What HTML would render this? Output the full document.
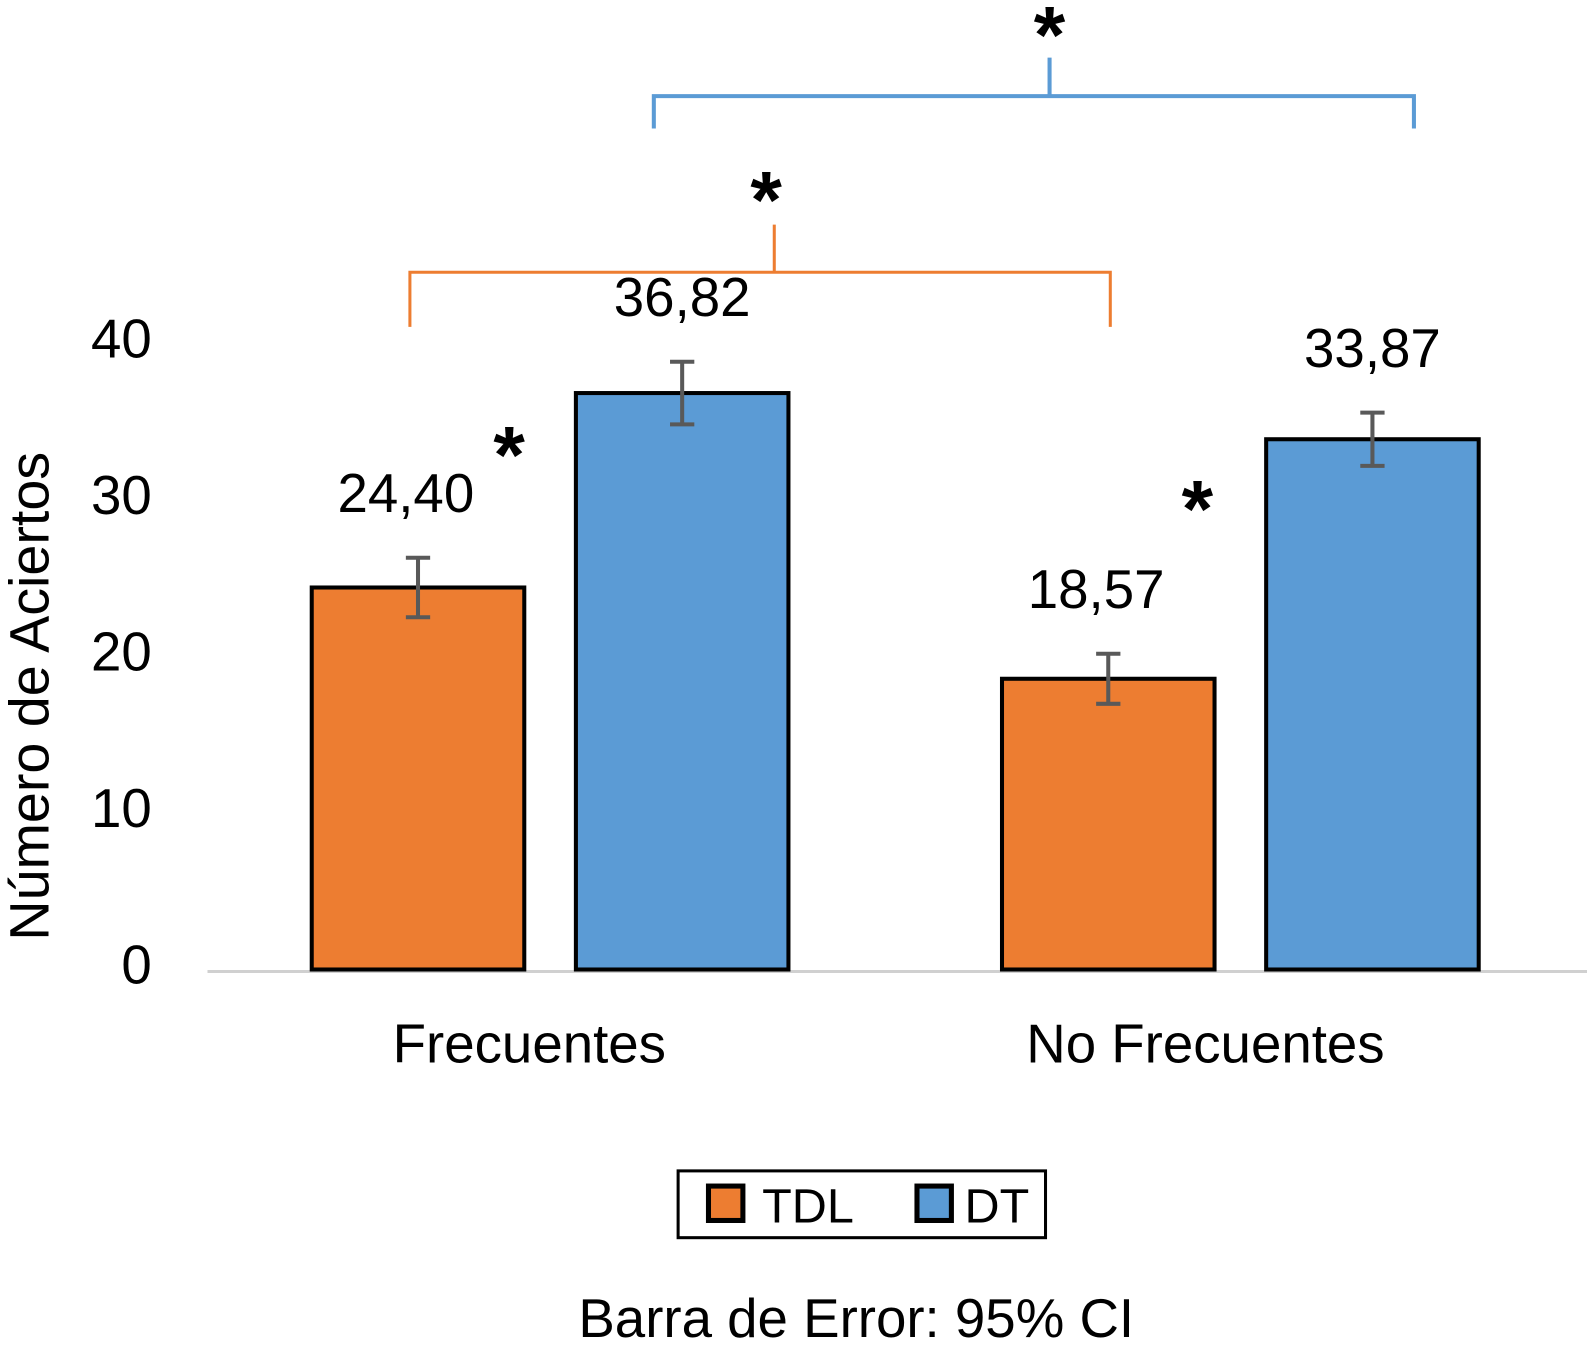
<!DOCTYPE html>
<html><head><meta charset="utf-8"><style>
html,body{margin:0;padding:0;background:#fff;}
svg{display:block;font-family:"Liberation Sans",sans-serif;}
</style></head><body>
<svg id="chart" width="1587" height="1349" viewBox="0 0 1568 1333" preserveAspectRatio="none" xmlns="http://www.w3.org/2000/svg">
<g id="g"></g>
</svg>
<script>
const categories = ["Frecuentes", "No Frecuentes"];
const seriesNames = ["TDL", "DT"];
const tdlValues = [24.40, 18.57];
const dtValues = [36.82, 33.87];
const tdlErr = [1.9, 1.6];
const dtErr = [2.0, 1.7];
const tdlLabels = ["24,40", "18,57"];
const dtLabels = ["36,82", "33,87"];
const yTicks = [0, 10, 20, 30, 40];

const NS = "http://www.w3.org/2000/svg";
const g = document.getElementById('g');
const y0 = 958, pxPerUnit = 15.47;
function yScale(v){ return y0 - v * pxPerUnit; }
const groupStart = [308, 990], barW = 210, barGap = 261;
function xBar(ci, si){ return groupStart[ci] + si * barGap; }
function el(tag, attrs, text){
  const e = document.createElementNS(NS, tag);
  for (const k in attrs) e.setAttribute(k, attrs[k]);
  if (text !== undefined) e.textContent = text;
  g.appendChild(e);
  return e;
}
const colors = ["#ED7D31", "#5B9BD5"];

yTicks.forEach(t => {
  const e = el('text', {x: 150, y: yScale(t) + 14, 'text-anchor': 'end', 'font-size': 54, fill: '#000'}, String(t));
  
  
});
const yt = el('text', {x: 0, y: 0, transform: 'translate(48,688) rotate(-90)', 'text-anchor': 'middle', 'font-size': 55, fill: '#000'}, 'Número de Aciertos');



const ax = el('line', {x1: 205, x2: 1568, y1: 960, y2: 960, stroke: '#d0d0d0', 'stroke-width': 3});



const vals = [tdlValues, dtValues], errs = [tdlErr, dtErr], labs = [tdlLabels, dtLabels];
categories.forEach((c, ci) => {
  for (let si = 0; si < 2; si++) {
    const v = vals[si][ci], x = xBar(ci, si), top = yScale(v);
    const r = el('rect', {x: x, y: top, width: barW, height: y0 - top, fill: colors[si], stroke: '#000', 'stroke-width': 4});
    
    
    const cx = x + barW / 2, e = errs[si][ci];
    const eb = el('path', {d: `M${cx-12},${yScale(v+e)}H${cx+12}M${cx},${yScale(v+e)}V${yScale(v-e)}M${cx-12},${yScale(v-e)}H${cx+12}`, stroke: '#595959', 'stroke-width': 4, fill: 'none'});
    
    
    const lt = el('text', {x: cx - (si === 0 ? 12 : 0), y: yScale(v + e) - 45, 'text-anchor': 'middle', 'font-size': 54, fill: '#000'}, labs[si][ci]);
    
    
  }
  const cl = el('text', {x: [523, 1191][ci], y: 1050, 'text-anchor': 'middle', 'font-size': 54, fill: '#000'}, c);
  
  
});

const b1 = el('path', {d: 'M646,127V95H1397V127M1037,95V57', stroke: '#5B9BD5', 'stroke-width': 4, fill: 'none'});


const b2 = el('path', {d: 'M405,323V269H1097V323M765,269V222', stroke: '#ED7D31', 'stroke-width': 3, fill: 'none'});


[[1037, 62], [757, 225], [503, 477], [1183, 530]].forEach(p => {
  const s = el('text', {x: p[0], y: p[1], 'text-anchor': 'middle', 'font-size': 80, 'font-weight': 'bold', fill: '#000'}, '*');
  
  
});

const lb = el('rect', {x: 670, y: 1157, width: 363, height: 66, fill: '#fff', stroke: '#000', 'stroke-width': 3});


[[700, 753, 0], [906, 953, 1]].forEach(p => {
  const sw = el('rect', {x: p[0], y: 1172, width: 34, height: 34, fill: colors[p[2]], stroke: '#000', 'stroke-width': 5});
  
  
  const lt = el('text', {x: p[1], y: 1208, 'font-size': 48, fill: '#000'}, seriesNames[p[2]]);
  
  
});
const ft = el('text', {x: 846, y: 1321, 'text-anchor': 'middle', 'font-size': 54, fill: '#000'}, 'Barra de Error: 95% CI');


</script>
</body></html>
